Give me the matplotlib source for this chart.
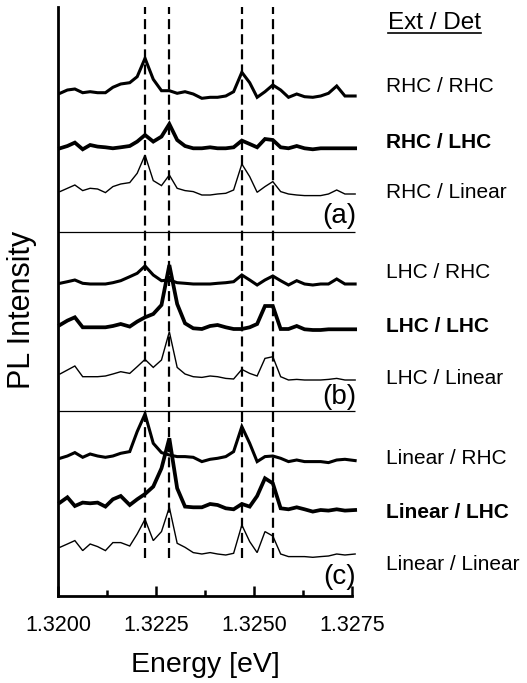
import matplotlib
matplotlib.use("Agg")
import matplotlib.pyplot as plt
from matplotlib.lines import Line2D

plt.rcParams['font.family'] = ['Liberation Sans', 'DejaVu Sans']

# ---------------- data ----------------
energy = [1.32005, 1.32024, 1.32043, 1.32063, 1.32082, 1.32101, 1.32121, 1.32140,
          1.32160, 1.32183, 1.32202, 1.32222, 1.32243, 1.32264, 1.32284, 1.32304,
          1.32324, 1.32345, 1.32367, 1.32388, 1.32407, 1.32428, 1.32448, 1.32469,
          1.32489, 1.32508, 1.32528, 1.32548, 1.32568, 1.32588, 1.32609, 1.32629,
          1.32650, 1.32670, 1.32690, 1.32711, 1.32732, 1.32758]

rhc_rhc = [1.7, 5, 6, 2.3, 3.3, 2.3, 2.3, 7.7, 11, 12.3, 18.3, 36.7, 15.7, 4.3, 4.3, 1.7,
           3.3, 1, -3.3, -2.3, -2.3, -1, 3.3, 22.7, 12.3, -2.3, 3.3, 10, 5, -2.3, 1, -1.7,
           -2.3, -1, 1.7, 9, -1, -1]
rhc_lhc = [0, 2.3, 5.7, -1, 3.3, 1.7, 1, 0, 1, 2.3, 6.7, 13.3, 6.7, 11.7, 24.3, 8.3,
           2.3, 0, 0, 1, 0, 0, 1, 7.7, 4.3, 1, 9.3, 8.3, 1, 0, 2.3, 0, -1, 0, 0, 0, 0, 0]
rhc_lin = [1.7, 5, 8.3, 2.7, 5, 4.3, 0.7, 6.7, 9.3, 10.7, 20, 38.3, 12.7, 7.7, 18.3, 5,
           2.7, 1.7, -1.7, -1.7, -0.7, 0, 3.3, 29.3, 16.7, 1, 6.7, 11.7, 1.7, -0.7, -1.7,
           -2.3, -2.3, -2.3, -0.7, 3.3, -0.7, -0.7]
lhc_rhc = [0.7, 2.3, 4, 0.7, 0, 0, 0, 1.3, 3.3, 7.3, 10.7, 18, 9, 3.3, 4, 1.3, 0.7, 0,
           0, 0, 0.7, 1.3, 2.3, 9, 4, -1, 4, 8, 3.3, -1, 3.3, 0, -1, 0, 0, 5, 0, 0]
lhc_lhc = [3.3, 7.7, 11, 1, 1, 1, 1, 2.3, 4.3, 1.7, 6.7, 11, 14.3, 23.3, 63.3, 24.3, 5,
           0, -0.7, 2.3, 3.3, 1, -0.7, -0.7, 1, 4.3, 22.3, 22.3, -0.7, -0.7, 2.3, -1,
           -1.7, -1.7, -1, -1, -1, -1]
lhc_lin = [2.7, 6.7, 10.7, 0, 0, 0, 0.7, 2.7, 5, 3.3, 10, 17.3, 9.3, 16.7, 45, 9.3, 2.7,
           0, -0.7, 0.7, 0, -1.7, -2.3, 7.3, 3.3, 0.7, 18.3, 20, 0, -3.3, -2.7, -3.3,
           -3.3, -3.3, -2.7, -1.7, -3.3, -3.3]
lin_rhc = [0, 2.3, 5.7, 1, 4.3, 2.3, 1, 2.3, 5, 6.7, 26.7, 44.3, 15, 5.7, 3.3, 1.7, 1.7,
           1, -3.3, -1, 0, 1.7, 6.7, 31.7, 15, -3.3, 1.7, 2.3, 0, -3.3, -1.7, -3.3, -3.3,
           -3.3, -4.3, -1.7, -1, -2.3]
lin_lhc = [4.7, 10, 1.3, 4.7, 4, 4.7, 0.7, 8, 11.3, 2.3, 8, 13.3, 20.7, 39, 69, 19, 0.7,
           0, 0, 3.3, 2.3, -1, -2, 3.3, 0.7, 11.3, 29, 24, -1, -2, 0, -2, -4.3, -2.7,
           -3.3, -2, -3.3, -2.7]
lin_lin = [6, 9.3, 12.7, 2.7, 9.3, 6.7, 2.7, 10.7, 10.7, 7.3, 19.3, 34, 12.7, 21.7, 46,
           10, 6, 0.7, -0.7, 0.7, -0.7, -1.7, 0, 28.3, 11.7, 0.7, 21.7, 17.3, -0.7, -3.3,
           -3.3, -3.3, -4, -3.3, -2.7, -0.7, -1.7, -0.7]

series = [rhc_rhc, rhc_lhc, rhc_lin, lhc_rhc, lhc_lhc, lhc_lin, lin_rhc, lin_lhc, lin_lin]
labels = ["RHC / RHC", "RHC / LHC", "RHC / Linear",
          "LHC / RHC", "LHC / LHC", "LHC / Linear",
          "Linear / RHC", "Linear / LHC", "Linear / Linear"]
detection = ["RHC", "LHC", "Linear"] * 3
offsets = [501, 447.7, 402.7, 312, 267.7, 219.3, 137.7, 88.7, 42.7]

peak_lines = [1.32222, 1.32284, 1.32469, 1.32548]
panel_names = ["(a)", "(b)", "(c)"]
separators = [364, 185]

xticks_major = [1.3200, 1.3225, 1.3250, 1.3275]
xtick_labels = ["1.3200", "1.3225", "1.3250", "1.3275"]
xticks_minor = [1.32125, 1.32375, 1.32625]

# ---------------- figure ----------------
W, H = 527, 683
fig = plt.figure(figsize=(W / 100, H / 100), dpi=100)
ax = fig.add_axes([58 / W, 87 / H, 294 / W, 589 / H])
ax.set_xlim(1.3200, 1.3275)
ax.set_ylim(0, 589)

lw_map = {"RHC": 2.2, "LHC": 2.7, "Linear": 1.0}
for vals, off, det in zip(series, offsets, detection):
    ax.plot(energy, [off + v for v in vals], color='black', lw=lw_map[det],
            solid_joinstyle='miter', clip_on=False)

ax.vlines(peak_lines, 38, 589, colors='black', lw=1.6, linestyles=(0, (4.5, 2.3)))
ax.hlines(separators, 1.3200, 1.32758, colors='black', lw=0.9, clip_on=False)

for sp in ['top', 'right']:
    ax.spines[sp].set_visible(False)
for sp in ['left', 'bottom']:
    ax.spines[sp].set_linewidth(2.0)

ax.set_yticks([])
ax.set_xticks(xticks_major)
ax.set_xticklabels(xtick_labels, fontsize=15.5)
ax.set_xticks(xticks_minor, minor=True)
ax.tick_params(axis='x', which='major', direction='in', length=7, width=1.8, pad=14)
ax.tick_params(axis='x', which='minor', direction='in', length=4, width=1.8)

ax.set_xlabel("Energy [eV]", fontsize=20.5, labelpad=11)
fig.text(22 / W, 1 - 310 / H, "PL Intensity", rotation=90, fontsize=22,
         ha='center', va='center')

# panel letters
panel_y = [216, 397, 577]
for name, py in zip(panel_names, panel_y):
    fig.text(356 / W, 1 - py / H, name, fontsize=20, ha='right', va='center')

# right labels
label_y = [86, 142, 192, 273, 327, 378, 458, 513, 564]
for lab, ly, det in zip(labels, label_y, detection):
    fig.text(386 / W, 1 - ly / H, lab, fontsize=15, ha='left', va='center',
             fontweight='bold' if det == "LHC" else 'normal')

hdr = fig.text(434 / W, 1 - 23 / H, "Ext / Det", fontsize=17.5, ha='center', va='center')
fig.canvas.draw()
bb = hdr.get_window_extent()
fig.add_artist(Line2D([bb.x0 / W, bb.x1 / W], [(bb.y0 + 1) / H, (bb.y0 + 1) / H],
                      transform=fig.transFigure, color='black', lw=1.2))

fig.savefig("out.png", dpi=100)
